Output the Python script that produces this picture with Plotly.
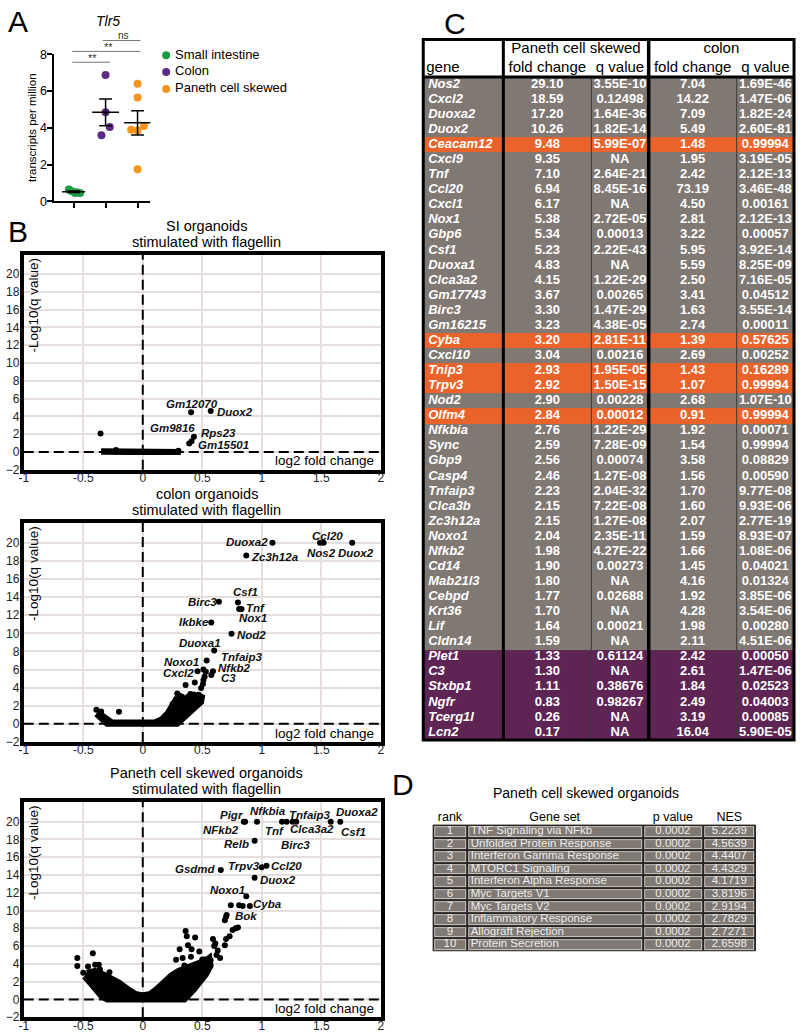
import numpy as np
import plotly.graph_objects as go

FONT = "Liberation Sans, Arial, Helvetica, sans-serif"
W, H = 800, 1035

# ======================= DATA =======================
# ---- Panel A: Tlr5 transcripts per million ----
groups = ["Small intestine", "Colon", "Paneth cell skewed"]
si_tpm = [0.65, 0.55, 0.45, 0.45, 0.5]
colon_tpm = [6.88, 4.85, 4.05, 3.6]
paneth_tpm = [6.4, 5.65, 4.1, 3.9, 3.85, 1.75]

# ---- Panel B: volcano plots (log2 fold change, -log10 q) ----
si_genes = ["Gm12070", "Duox2", "Gm9816", "Rps23", "Gm15501"]
si_gene_fc = [0.406, 0.571, 0.41, 0.43, 0.39]
si_gene_q = [4.46, 4.6, 1.2, 1.7, 0.95]
si_other_fc = [-0.355, -0.225, 0.30]
si_other_q = [2.08, 0.22, 0.12]
si_cloud_fc = [-0.35, 0.32, 0.32, -0.35]
si_cloud_q = [0.0, 0.0, 0.08, 0.08]

colon_genes = ["Ccl20", "Nos2", "Duox2", "Duoxa2", "Zc3h12a", "Csf1", "Birc3", "Tnf", "Nox1",
               "Ikbke", "Nod2", "Duoxa1", "Tnfaip3", "Noxo1", "Nfkb2", "Cxcl2", "C3"]
colon_gene_fc = [1.49, 1.52, 1.76, 1.09, 0.87, 0.80, 0.64, 0.81, 0.83,
                 0.576, 0.746, 0.60, 0.51, 0.537, 0.59, 0.46, 0.576]
colon_gene_q = [20.0, 20.0, 20.0, 20.0, 18.6, 13.4, 13.5, 12.7, 12.7,
                11.2, 9.95, 8.1, 6.0, 7.0, 5.8, 5.8, 5.4]
colon_other_fc = [-0.39, -0.35, -0.20, 0.29, 0.36, 0.437, 0.506, 0.49, 0.51, 0.53, 0.47,
                  0.40, 0.33, 0.45, 0.25, 0.52, 0.31, 0.38, 0.43]
colon_other_q = [1.55, 1.35, 1.33, 3.34, 4.3, 4.56, 4.4, 3.95, 4.85, 5.75, 3.2,
                 3.3, 3.0, 2.95, 2.2, 5.2, 3.1, 3.0, 3.25]
colon_cloud_fc = [-0.38, -0.35, -0.31, -0.26, 0.10, 0.16, 0.21, 0.25, 0.28, 0.33, 0.40, 0.46,
                  0.50, 0.49, 0.44, 0.39, 0.34, 0.29, -0.30, -0.35, -0.39]
colon_cloud_q = [1.3, 1.0, 0.5, 0.15, 0.15, 0.5, 1.2, 2.0, 2.7, 2.6, 2.7, 2.6,
                 3.2, 2.4, 1.8, 1.1, 0.45, 0.0, 0.0, 0.5, 1.1]

paneth_genes = ["Pigr", "Nfkbia", "Tnf", "Tnfaip3", "Clca3a2", "Birc3", "Duoxa2", "Csf1", "Relb",
                "Gsdmd", "Trpv3", "Ccl20", "Duox2", "Noxo1", "Cyba", "Bok", "NFkb2"]
paneth_gene_fc = [0.86, 0.96, 1.17, 1.26, 1.29, 1.21, 1.58, 1.66, 0.94,
                  0.656, 1.0, 1.04, 0.94, 0.87, 0.90, 0.81, 0.85]
paneth_gene_q = [20.0, 20.0, 20.0, 20.0, 20.0, 20.0, 20.0, 20.0, 17.85,
                 14.57, 14.87, 15.05, 13.7, 11.6, 10.5, 10.6, 20.0]
paneth_other_fc = [-0.55, -0.55, -0.42, -0.46, -0.37, -0.36, -0.40, -0.50, -0.45, -0.28, -0.30,
                   0.36, 0.37, 0.44, 0.31, 0.38, 0.28, 0.335, 0.405, 0.475, 0.41, 0.50, 0.59, 0.61,
                   0.60, 0.63, 0.65, 0.62, 0.69, 0.70, 0.73, 0.755, 0.78, 0.80, 0.69, 0.70, 0.705,
                   0.74, 0.84, 0.55, 0.57, 0.42, 0.35, 0.47, 0.52]
paneth_other_q = [4.65, 3.75, 5.2, 3.7, 3.9, 3.35, 3.9, 3.0, 2.9, 3.05, 2.5,
                  7.7, 7.1, 6.95, 5.65, 6.1, 4.46, 4.65, 4.8, 5.4, 5.65, 4.5, 6.8, 6.3,
                  6.0, 5.5, 4.65, 5.0, 6.1, 6.8, 7.1, 7.8, 8.0, 8.1, 8.9, 9.3, 9.5,
                  10.6, 10.5, 4.2, 4.4, 3.4, 3.8, 4.0, 4.5]
paneth_cloud_fc = [-0.47, -0.40, -0.33, -0.26, -0.20, -0.13, -0.06, 0.0, 0.06, 0.12, 0.18, 0.24,
                   0.30, 0.36, 0.42, 0.48, 0.53, 0.56, 0.57, 0.53, 0.48, 0.43, 0.38, 0.35,
                   -0.30, -0.35, -0.40, -0.45, -0.49]
paneth_cloud_q = [3.0, 3.2, 2.8, 2.4, 1.9, 1.2, 0.6, 0.45, 0.6, 1.2, 2.0, 2.7,
                  3.2, 3.5, 3.8, 4.1, 4.4, 4.7, 3.8, 2.8, 1.9, 1.1, 0.4, 0.0,
                  0.0, 0.4, 1.2, 2.0, 2.6]

# ---- Panel C: table ----
table_genes = ["Nos2", "Cxcl2", "Duoxa2", "Duox2", "Ceacam12", "Cxcl9", "Tnf", "Ccl20", "Cxcl1",
               "Nox1", "Gbp6", "Csf1", "Duoxa1", "Clca3a2", "Gm17743", "Birc3", "Gm16215",
               "Cyba", "Cxcl10", "Tnip3", "Trpv3", "Nod2", "Olfm4", "Nfkbia", "Sync", "Gbp9",
               "Casp4", "Tnfaip3", "Clca3b", "Zc3h12a", "Noxo1", "Nfkb2", "Cd14", "Mab21l3",
               "Cebpd", "Krt36", "Lif", "Cldn14", "Plet1", "C3", "Stxbp1", "Ngfr", "Tcerg1l", "Lcn2"]
paneth_fc = [29.10, 18.59, 17.20, 10.26, 9.48, 9.35, 7.10, 6.94, 6.17, 5.38, 5.34, 5.23, 4.83,
             4.15, 3.67, 3.30, 3.23, 3.20, 3.04, 2.93, 2.92, 2.90, 2.84, 2.76, 2.59, 2.56, 2.46,
             2.23, 2.15, 2.15, 2.04, 1.98, 1.90, 1.80, 1.77, 1.70, 1.64, 1.59, 1.33, 1.30, 1.11,
             0.83, 0.26, 0.17]
paneth_q = ["3.55E-10", "0.12498", "1.64E-36", "1.82E-14", "5.99E-07", "NA", "2.64E-21",
            "8.45E-16", "NA", "2.72E-05", "0.00013", "2.22E-43", "NA", "1.22E-29", "0.00265",
            "1.47E-29", "4.38E-05", "2.81E-11", "0.00216", "1.95E-05", "1.50E-15", "0.00228",
            "0.00012", "1.22E-29", "7.28E-09", "0.00074", "1.27E-08", "2.04E-32", "7.22E-08",
            "1.27E-08", "2.35E-11", "4.27E-22", "0.00273", "NA", "0.02688", "NA", "0.00021",
            "NA", "0.61124", "NA", "0.38676", "0.98267", "NA", "NA"]
colon_fc = [7.04, 14.22, 7.09, 5.49, 1.48, 1.95, 2.42, 73.19, 4.50, 2.81, 3.22, 5.95, 5.59,
            2.50, 3.41, 1.63, 2.74, 1.39, 2.69, 1.43, 1.07, 2.68, 0.91, 1.92, 1.54, 3.58, 1.56,
            1.70, 1.60, 2.07, 1.59, 1.66, 1.45, 4.16, 1.92, 4.28, 1.98, 2.11, 2.42, 2.61, 1.84,
            2.49, 3.19, 16.04]
colon_q = ["1.69E-46", "1.47E-06", "1.82E-24", "2.60E-81", "0.99994", "3.19E-05", "2.12E-13",
           "3.46E-48", "0.00161", "2.12E-13", "0.00057", "3.92E-14", "8.25E-09", "7.16E-05",
           "0.04512", "3.55E-14", "0.00011", "0.57625", "0.00252", "0.16289", "0.99994",
           "1.07E-10", "0.99994", "0.00071", "0.99994", "0.08829", "0.00590", "9.77E-08",
           "9.93E-06", "2.77E-19", "8.93E-07", "1.08E-06", "0.04021", "0.01324", "3.85E-06",
           "3.54E-06", "0.00280", "4.51E-06", "0.00050", "1.47E-06", "0.02523", "0.04003",
           "0.00085", "5.90E-05"]
orange_genes = ["Ceacam12", "Cyba", "Tnip3", "Trpv3", "Olfm4"]
purple_genes = ["Plet1", "C3", "Stxbp1", "Ngfr", "Tcerg1l", "Lcn2"]

# ---- Panel D: GSEA ----
gsea_rank = [1, 2, 3, 4, 5, 6, 7, 8, 9, 10]
gsea_sets = ["TNF Signaling via NFkb", "Unfolded Protein Response", "Interferon Gamma Response",
             "MTORC1 Signaling", "Interferon Alpha Response", "Myc Targets V1", "Myc Targets V2",
             "Inflammatory Response", "Allograft Rejection", "Protein Secretion"]
gsea_p = [0.0002, 0.0002, 0.0002, 0.0002, 0.0002, 0.0002, 0.0002, 0.0002, 0.0002, 0.0002]
gsea_nes = [5.2239, 4.5639, 4.4407, 4.4329, 4.1719, 3.8196, 2.9194, 2.7829, 2.7271, 2.6598]

# ======================= STYLE / LAYOUT =======================
def px(x):
    return x / W


def py(y):
    return 1 - y / H


fig = go.Figure()
annotations = []
shapes = []
axes = {}


def pann(text, x, y, size, xanchor="center", yanchor="middle", textangle=0, color="black"):
    annotations.append(dict(text=text, x=px(x), y=py(y), xref="paper", yref="paper",
                            showarrow=False, font=dict(family=FONT, size=size, color=color),
                            xanchor=xanchor, yanchor=yanchor, textangle=textangle))


# ---------------- Panel A ----------------
a_colors = ["#1f9a45", "#5d2a85", "#f7941d"]
a_jitter = [[-0.15, -0.05, 0.05, 0.2, 0.1], [0.0, 0.0, 0.13, -0.13], [0.0, 0.0, 0.2, -0.2, 0.0, 0.0]]
a_values = [si_tpm, colon_tpm, paneth_tpm]
for gi, (name, vals) in enumerate(zip(groups, a_values)):
    fig.add_trace(go.Scatter(x=[gi + j for j in a_jitter[gi]], y=vals, mode="markers", name=name,
                             marker=dict(color=a_colors[gi], size=8), xaxis="x", yaxis="y",
                             cliponaxis=False, hoverinfo="skip", showlegend=False))
for gi, vals in enumerate(a_values):
    m = float(np.mean(vals))
    s = float(np.std(vals, ddof=1) / np.sqrt(len(vals)))
    hw = 0.36 if gi == 0 else 0.42
    fig.add_trace(go.Scatter(
        x=[gi - hw, gi + hw, None, gi - 0.2, gi + 0.2, None, gi, gi, None, gi - 0.2, gi + 0.2],
        y=[m, m, None, m + s, m + s, None, m + s, m - s, None, m - s, m - s],
        mode="lines", line=dict(color="black", width=1.5), showlegend=False,
        xaxis="x", yaxis="y", hoverinfo="skip"))

axes["xaxis"] = dict(domain=[px(50), px(147)], range=[-0.6, 2.4], anchor="y", showline=True,
                     linewidth=2, linecolor="black", ticks="outside", ticklen=5, tickwidth=2,
                     tickcolor="black", tickvals=[0, 1, 2], showticklabels=False, showgrid=False,
                     zeroline=False)
axes["yaxis"] = dict(domain=[py(197), py(48)], range=[0, 8], anchor="x", showline=True,
                     linewidth=2, linecolor="black", ticks="outside", ticklen=5, tickwidth=2,
                     tickcolor="black", tickvals=[0, 2, 4, 6, 8], showgrid=False, zeroline=False,
                     ticklabelstandoff=-2,
                     tickfont=dict(family=FONT, size=12.5, color="black"))
pann("A", 13, 15, 30)
pann("<i>Tlr5</i>", 104, 14, 14)
pann("transcripts per million", 28, 122, 11.5, textangle=-90)
for (x0, x1, yy) in [(68, 106, 56), (68, 137, 45), (99, 137, 34)]:
    shapes.append(dict(type="line", xref="paper", yref="paper", x0=px(x0), x1=px(x1),
                       y0=py(yy), y1=py(yy), line=dict(color="#777777", width=1)))
pann("**", 88, 52, 11, color="#333")
pann("**", 105, 41, 11, color="#333")
pann("ns", 120, 29, 10, color="#333")

# legend (own hidden axis in pixel units)
fig.add_trace(go.Scatter(x=[163, 163, 163], y=[49, 66, 83], mode="markers",
                         marker=dict(color=a_colors, size=8), xaxis="x7", yaxis="y7",
                         showlegend=False, hoverinfo="skip", cliponaxis=False))
fig.add_trace(go.Scatter(x=[172, 172, 172], y=[49, 66, 83], mode="text", text=groups,
                         textposition="middle right",
                         textfont=dict(family=FONT, size=13, color="black"),
                         xaxis="x7", yaxis="y7", showlegend=False, hoverinfo="skip",
                         cliponaxis=False))
axes["xaxis7"] = dict(domain=[px(150), px(400)], range=[150, 400], anchor="y7", visible=False)
axes["yaxis7"] = dict(domain=[py(100), py(35)], range=[100, 35], anchor="x7", visible=False)

# ---------------- Panel B: volcano plots ----------------
GRID = "#e6dddd"
xt = [-1, -0.5, 0, 0.5, 1, 1.5, 2]
xtt = ["-1", "-0.5", "0", "0.5", "1", "1.5", "2"]
yt = [-2, 0, 2, 4, 6, 8, 10, 12, 14, 16, 18, 20]


def volcano(n, top, bottom, titles, genes, gfc, gq, lfc, lq, ofc, oq, cfc, cq):
    xa, ya = f"x{n}", f"y{n}"
    fig.add_trace(go.Scatter(x=cfc, y=cq, fill="toself", fillcolor="black", mode="lines",
                             line=dict(color="black", width=6), xaxis=xa, yaxis=ya,
                             showlegend=False, hoverinfo="skip"))
    fig.add_trace(go.Scatter(x=ofc + gfc, y=oq + gq, mode="markers",
                             marker=dict(color="black", size=6), xaxis=xa, yaxis=ya,
                             showlegend=False, hoverinfo="skip"))
    for g, x, y in zip(genes, lfc, lq):
        annotations.append(dict(text=f"<b><i>{g}</i></b>", x=x, y=y, xref=xa, yref=ya,
                                showarrow=False, font=dict(family=FONT, size=11.5, color="#111"),
                                xanchor="center", yanchor="middle"))
    axes[f"xaxis{n}"] = dict(domain=[px(19), px(380)], range=[-1, 2], anchor=ya, tickvals=xt,
                             ticktext=xtt, showgrid=True, gridcolor=GRID, gridwidth=1.5,
                             showline=True, linecolor="black", linewidth=4, mirror=True,
                             zeroline=False, ticks="", ticklabelstandoff=-6,
                             tickfont=dict(family=FONT, size=12, color="#222"))
    axes[f"yaxis{n}"] = dict(domain=[py(bottom), py(top)], range=[-2, 22.2], anchor=xa,
                             tickvals=yt, showgrid=True, gridcolor=GRID, gridwidth=1.5,
                             showline=True, linecolor="black", linewidth=4, mirror=True,
                             zeroline=False, ticks="", ticklabelstandoff=-2,
                             tickfont=dict(family=FONT, size=12, color="#222"))
    shapes.append(dict(type="line", xref=xa, yref=f"{ya} domain", x0=0, x1=0, y0=0, y1=1,
                       line=dict(color="black", width=2, dash="10px,5px")))
    shapes.append(dict(type="line", xref=f"{xa} domain", yref=ya, x0=0, x1=1, y0=0, y1=0,
                       line=dict(color="black", width=2, dash="10px,5px")))
    pann("-Log10(q value)", 29, top + 51, 13.5, textangle=-90)
    pann("log2 fold change", 375, bottom - 9, 13.5, xanchor="right")
    pann(titles[0], 204, top - 29, 14.5)
    pann(titles[1], 204, top - 13, 14.5)


volcano(2, 251, 469, ["SI organoids", "stimulated with flagellin"], si_genes, si_gene_fc,
        si_gene_q, [0.41, 0.775, 0.25, 0.64, 0.68], [5.43, 4.54, 2.7, 2.08, 0.78],
        si_other_fc, si_other_q, si_cloud_fc, si_cloud_q)
volcano(3, 523, 745, ["colon organoids", "stimulated with flagellin"], colon_genes,
        colon_gene_fc, colon_gene_q,
        [1.556, 1.50, 1.79, 0.874, 1.11, 0.866, 0.50, 0.95, 0.93, 0.43, 0.91, 0.484, 0.83, 0.326,
         0.77, 0.30, 0.72],
        [20.8, 18.85, 18.85, 20.1, 18.4, 14.6, 13.46, 12.75, 11.67, 11.2, 9.8, 8.94, 7.43, 6.82,
         6.18, 5.64, 5.03],
        colon_other_fc, colon_other_q, colon_cloud_fc, colon_cloud_q)
volcano(4, 806, 1024, ["Paneth cell skewed organoids", "stimulated with flagellin"],
        paneth_genes, paneth_gene_fc, paneth_gene_q,
        [0.746, 1.05, 1.11, 1.405, 1.42, 1.28, 1.80, 1.77, 0.79, 0.44, 0.85, 1.21, 1.14, 0.715,
         1.05, 0.866, 0.66],
        [20.8, 21.2, 18.96, 20.8, 19.2, 17.4, 21.1, 18.8, 17.5, 14.7, 15.05, 15.05, 13.4, 12.27,
         10.7, 9.37, 19.1],
        paneth_other_fc, paneth_other_q, paneth_cloud_fc, paneth_cloud_q)
pann("B", 13, 228, 30)

# ---------------- Panel C: table ----------------
GRAY = "#7f7873"
ORANGE = "#ea632b"
PURPLE = "#5e2554"
c_edges = [0, 81, 170, 228, 317, 375]
c_centers = [125.5, 199, 272.5, 346]
RH = 15.27
c_top, c_bot = 33, 743
n_rows = len(table_genes)
row_code = [1 if g in orange_genes else (2 if g in purple_genes else 0) for g in table_genes]
rows = list(range(n_rows))
fig.add_trace(go.Heatmap(x=c_edges, y=rows, z=[[c] * 5 for c in row_code], zmin=0, zmax=2,
                         colorscale=[[0, GRAY], [0.5, ORANGE], [1, PURPLE]], showscale=False,
                         xaxis="x5", yaxis="y5", hoverinfo="skip"))
fig.add_trace(go.Scatter(x=[5] * n_rows, y=rows, mode="text",
                         text=[f"<b><i>{g}</i></b>" for g in table_genes],
                         textposition="middle right",
                         textfont=dict(family=FONT, size=13, color="white"),
                         xaxis="x5", yaxis="y5", showlegend=False, hoverinfo="skip"))
for cx, col in zip(c_centers, [[f"{v:.2f}" for v in paneth_fc], paneth_q,
                               [f"{v:.2f}" for v in colon_fc], colon_q]):
    fig.add_trace(go.Scatter(x=[cx] * n_rows, y=rows, mode="text",
                             text=[f"<b>{t}</b>" for t in col], textposition="middle center",
                             textfont=dict(family=FONT, size=13, color="white"),
                             xaxis="x5", yaxis="y5", showlegend=False, hoverinfo="skip"))
hdr_top = -0.5 - (71 - c_top) / RH
y_hdr1 = -0.5 - (71 - 43) / RH
y_hdr2 = -0.5 - (71 - 62) / RH
fig.add_trace(go.Scatter(
    x=[3, 154.5, 301.5, c_centers[0], c_centers[1], c_centers[2], c_centers[3]],
    y=[y_hdr2, y_hdr1, y_hdr1, y_hdr2, y_hdr2, y_hdr2, y_hdr2], mode="text",
    text=["gene", "Paneth cell skewed", "colon", "fold change", "q value", "fold change", "q value"],
    textposition=["middle right"] + ["middle center"] * 6,
    textfont=dict(family=FONT, size=15, color="black"), xaxis="x5", yaxis="y5",
    showlegend=False, hoverinfo="skip"))
padr = 0.25
axes["xaxis5"] = dict(domain=[px(420), px(800)], range=[-3, 377], anchor="y5", visible=False)
axes["yaxis5"] = dict(domain=[py(c_bot + padr * RH), py(c_top - padr * RH)],
                      range=[n_rows - 0.5 + padr, hdr_top - padr], anchor="x5", visible=False)
for x0, w, y0 in [(81, 3, hdr_top), (228, 3.5, hdr_top)]:
    shapes.append(dict(type="line", xref="x5", yref="y5", x0=x0, x1=x0, y0=y0, y1=n_rows - 0.5,
                       line=dict(color="black", width=w)))
for x0 in [170, 317]:
    shapes.append(dict(type="line", xref="x5", yref="y5", x0=x0, x1=x0, y0=-0.5, y1=n_rows - 0.5,
                       line=dict(color="#3e3936", width=1)))
shapes.append(dict(type="line", xref="x5", yref="y5", x0=0, x1=375, y0=-0.5, y1=-0.5,
                   line=dict(color="black", width=3)))
shapes.append(dict(type="rect", xref="x5", yref="y5", x0=0, x1=375, y0=hdr_top, y1=n_rows - 0.5,
                   line=dict(color="black", width=3)))
pann("C", 455, 17, 30)

# ---------------- Panel D: GSEA table ----------------
d_edges = [0, 34, 212, 273, 326]
DRH = 12.74
d_top, d_bot = 829.3, 956.7
nd = len(gsea_rank)
drows = list(range(nd))
dz = [[0] * 4 for _ in drows]
shapes.append(dict(type="rect", xref="x6", yref="y6", x0=0, x1=326, y0=-0.5, y1=nd - 0.5,
                   fillcolor="#262422", line=dict(color="#262422", width=1), layer="below"))
fig.add_trace(go.Heatmap(x=d_edges, y=drows, z=dz, zmin=0, zmax=1, xgap=2, ygap=2,
                         colorscale=[[0, "#c9c4c0"], [1, "#c9c4c0"]], showscale=False,
                         xaxis="x6", yaxis="y6", hoverinfo="skip"))
fig.add_trace(go.Heatmap(x=d_edges, y=drows, z=dz, zmin=0, zmax=1, xgap=4, ygap=4,
                         colorscale=[[0, GRAY], [1, GRAY]], showscale=False,
                         xaxis="x6", yaxis="y6", hoverinfo="skip"))
dfont = dict(family=FONT, size=11.5, color="#ececec")
fig.add_trace(go.Scatter(x=[17] * nd, y=drows, mode="text", text=[str(r) for r in gsea_rank],
                         textposition="middle center", textfont=dfont, xaxis="x6", yaxis="y6",
                         showlegend=False, hoverinfo="skip"))
fig.add_trace(go.Scatter(x=[38] * nd, y=drows, mode="text", text=gsea_sets,
                         textposition="middle right", textfont=dfont, xaxis="x6", yaxis="y6",
                         showlegend=False, hoverinfo="skip"))
fig.add_trace(go.Scatter(x=[242.5] * nd, y=drows, mode="text", text=[f"{v:.4f}" for v in gsea_p],
                         textposition="middle center", textfont=dfont, xaxis="x6", yaxis="y6",
                         showlegend=False, hoverinfo="skip"))
fig.add_trace(go.Scatter(x=[299.5] * nd, y=drows, mode="text", text=[f"{v:.4f}" for v in gsea_nes],
                         textposition="middle center", textfont=dfont, xaxis="x6", yaxis="y6",
                         showlegend=False, hoverinfo="skip"))
fig.add_trace(go.Scatter(x=[17, 123, 242.5, 299.5], y=[-1.05] * 4, mode="text",
                         text=["rank", "Gene set", "p value", "NES"], textposition="middle center",
                         textfont=dict(family=FONT, size=12.5, color="black"), xaxis="x6",
                         yaxis="y6", showlegend=False, hoverinfo="skip"))
dpad = 0.3
axes["xaxis6"] = dict(domain=[px(430), px(762)], range=[-3, 329], anchor="y6", visible=False)
axes["yaxis6"] = dict(domain=[py(d_bot + dpad * DRH), py(d_top - (1 + dpad) * DRH)],
                      range=[nd - 0.5 + dpad, -1.5 - dpad], anchor="x6", visible=False)
pann("Paneth cell skewed organoids", 588, 797, 14)
pann("D", 403, 788, 30)

fig.update_layout(
    width=W, height=H, autosize=False, margin=dict(l=0, r=0, t=0, b=0, pad=0),
    plot_bgcolor="white", paper_bgcolor="white",
    font=dict(family=FONT, color="black"),
    showlegend=False,
    annotations=annotations, shapes=shapes, **axes)

fig.write_html("out.html", config={"displayModeBar": False, "responsive": False},
               post_script="document.body.style.margin='0';document.body.style.padding='0';"
                           "document.documentElement.style.overflow='hidden';"
                           "document.body.style.overflow='hidden';")
